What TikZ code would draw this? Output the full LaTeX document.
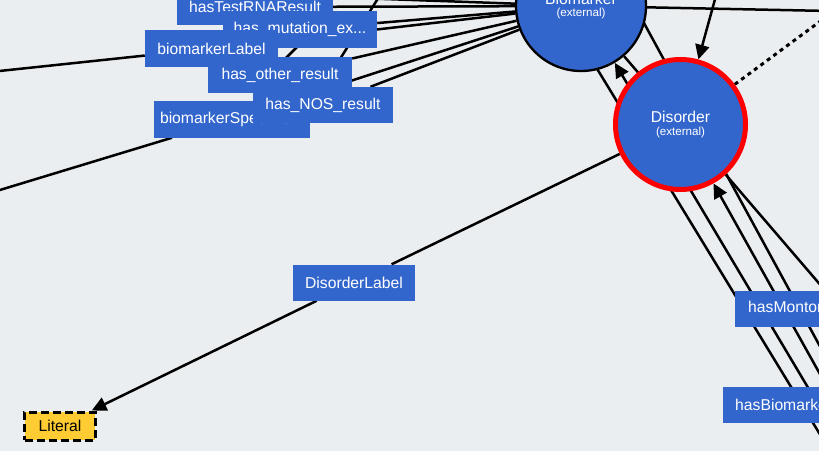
\documentclass[tikz,border=0pt]{standalone}
\usepackage{fontspec}
\setmainfont{Liberation Sans}
\usetikzlibrary{arrows.meta}

\definecolor{canvas}{RGB}{235,238,240}
\definecolor{extblue}{RGB}{51,102,204}
\definecolor{litgold}{RGB}{255,204,51}

\pgfdeclarelayer{bg}
\pgfdeclarelayer{edges}
\pgfsetlayers{bg,edges,main}

\tikzset{
  prop/.style={fill=extblue, text=white, minimum height=1.08cm, inner sep=0pt,
    font=\fontsize{13.4}{15}\selectfont},
  ext/.style={circle, fill=extblue, text=white, minimum size=3.9cm, inner sep=0pt,
    align=center, font=\fontsize{13.4}{15}\selectfont},
  link/.style={line width=0.075cm},
  tip/.style={-{Triangle[length=0.44cm,width=0.42cm]}},
  dotline/.style={line width=0.09cm, dash pattern=on 0.12cm off 0.12cm},
}

\begin{document}
\begin{tikzpicture}[x=0.03cm, y=-0.03cm]
\useasboundingbox (0,0) rectangle (819,451);
\begin{pgfonlayer}{bg}
\fill[canvas] (0,0) rectangle (819,451);
\end{pgfonlayer}

\node[ext, draw=black, line width=0.07cm] (bio) at (581,6) {Biomarker\\[-4.4pt]{\fontsize{9.9}{11}\selectfont(external)}};
\node[ext, draw=red, line width=0.15cm] (dis) at (680.5,124.5) {Disorder\\[-4.4pt]{\fontsize{9.9}{11}\selectfont(external)}};

\node[prop, minimum width=4.68cm] (rna) at (255,7) {hasTestRNAResult};
\node[prop, minimum width=4.62cm] (mut) at (300,29.5) {has\_mutation\_ex...};
\node[prop, minimum width=3.99cm] (blab) at (211.5,48.5) {biomarkerLabel};
\node[prop, minimum width=4.32cm] (other) at (280,75) {has\_other\_result};
\node[prop, minimum width=4.68cm] (spec) at (232,119.5) {biomarkerSpecime...};
\node[prop, minimum width=4.2cm] (nos) at (323,105) {has\_NOS\_result};
\node[prop, minimum width=3.66cm] (dlab) at (354,282.5) {DisorderLabel};
\node[prop, anchor=west, inner xsep=0.39cm] (monto) at (735,308.5) {hasMontoring...};
\node[prop, anchor=west, inner xsep=0.36cm] (hasbio) at (723,404.5) {hasBiomarker...};
\node[draw, fill=litgold, line width=0.09cm, dash pattern=on 0.24cm off 0.12cm,
  minimum width=2.1cm, minimum height=0.84cm, inner sep=0pt,
  font=\fontsize{13.4}{15}\selectfont] (lit) at (60,426) {Literal};

\begin{pgfonlayer}{edges}
\clip (0,0) rectangle (819,451);
\coordinate (blW) at (-10,72);
\coordinate (specW) at (-10,193);
\coordinate (topA) at (300,-4);
\coordinate (crossA) at (382,-8);
\coordinate (crossB) at (330,75);
\coordinate (crossC) at (312,32);
\coordinate (crossD) at (280,64);
\coordinate (east1) at (830,11);
\coordinate (east2) at (830,14);
\coordinate (north1) at (717,-8);
\coordinate (n1) at (549,-10);
\coordinate (s1) at (835,459);
\coordinate (s2) at (835,433);
\coordinate (s3) at (835,401);
\coordinate (n4) at (626,-10);
\coordinate (s4) at (835,374);
\coordinate (s5) at (835,302);

\path[draw,link] (blW) -- (blab) -- (bio);
\path[draw,link] (specW) -- (spec) -- (bio);
\path[draw,link] (rna) -- (bio);
\path[draw,link] (mut) -- (bio);
\path[draw,link] (other) -- (bio);
\path[draw,link] (nos) -- (bio);
\path[draw,link] (topA) -- (bio);
\path[draw,link] (crossA) -- (crossB);
\path[draw,link] (crossC) -- (crossD);

\path[draw,link] (bio) -- (east1);
\path[draw,link,tip] (north1) -- (dis);
\path[draw,dotline] (dis) -- (east2);
\path[draw,link,tip] (dis) -- (dlab) -- (lit);

\path[draw,link] (n1) -- (s1);
\path[draw,link,tip] (s2) -- (bio);
\path[draw,link,tip] (s3) -- (dis);
\path[draw,link] (n4) -- (s4);
\path[draw,link] (bio) -- (s5);
\end{pgfonlayer}
\end{tikzpicture}
\end{document}
